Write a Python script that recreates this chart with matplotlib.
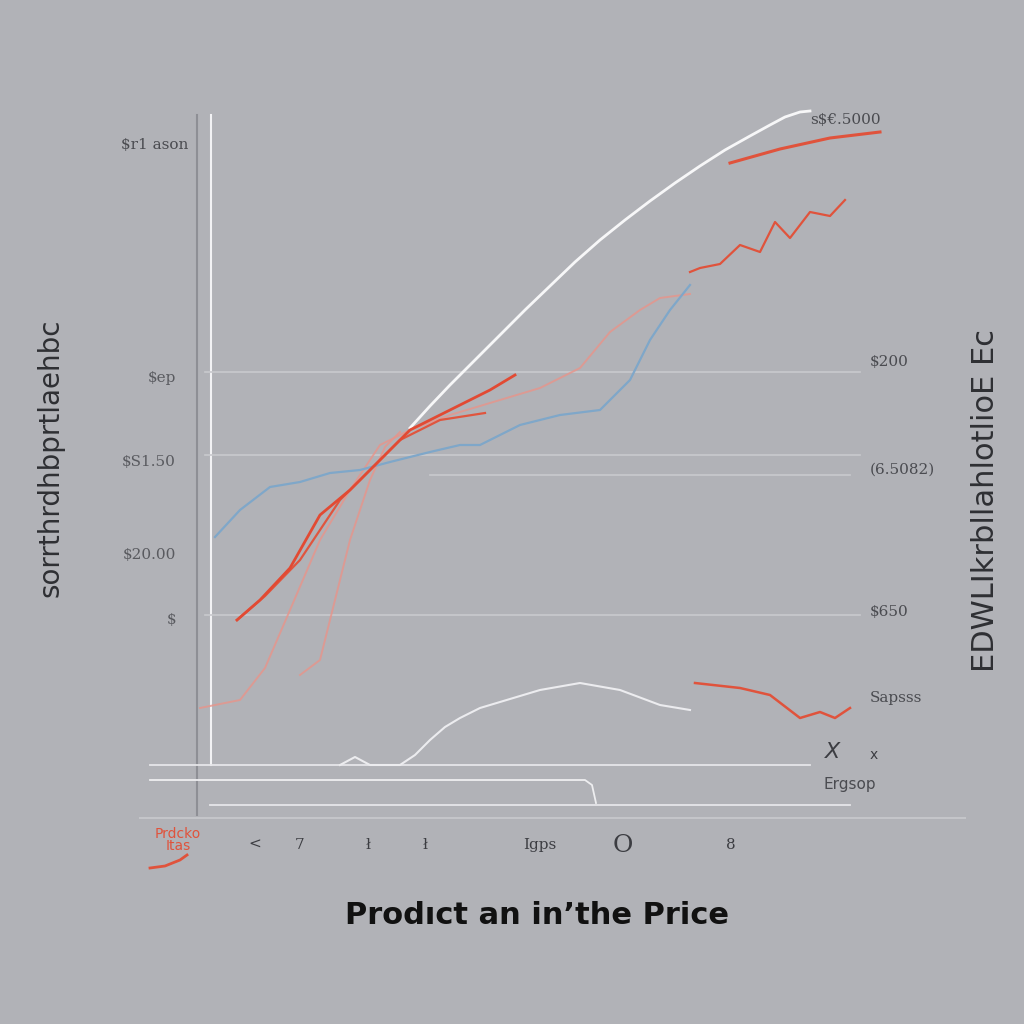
import matplotlib
matplotlib.use("Agg")
import matplotlib.pyplot as plt
import numpy as np

# series (x, y in picture units, y grows downward)
white_x = [410, 430, 450, 475, 500, 525, 550, 575, 600, 625, 650, 675, 700, 725, 750, 770, 785, 800, 810]
white_y = [428, 406, 385, 360, 335, 310, 286, 262, 240, 220, 201, 183, 166, 150, 136, 125, 117, 112, 111]

red_top_x = [730, 780, 830, 880]
red_top_y = [163, 149, 138, 132]

red_a_x = [237, 260, 290, 320, 350, 380, 410, 450, 490, 515]
red_a_y = [620, 600, 568, 515, 490, 460, 430, 410, 390, 375]

red_b_x = [237, 265, 300, 340, 370, 400, 440, 485]
red_b_y = [620, 596, 560, 500, 470, 440, 420, 413]

pink_x = [200, 240, 265, 290, 320, 350, 380, 410, 450, 500, 540, 580, 610, 640, 660, 690]
pink_y = [708, 700, 668, 610, 540, 490, 445, 430, 415, 400, 388, 368, 332, 310, 298, 294]

red_jag_x = [690, 700, 720, 740, 760, 775, 790, 810, 830, 845]
red_jag_y = [272, 268, 264, 245, 252, 222, 238, 212, 216, 200]

pink2_x = [300, 320, 330, 350, 370, 385, 400]
pink2_y = [675, 660, 620, 540, 480, 447, 432]

blue_x = [215, 240, 270, 300, 330, 360, 390, 430, 460, 480, 500, 520, 560, 600, 630, 650, 670, 690]
blue_y = [537, 510, 487, 482, 473, 470, 462, 452, 445, 445, 435, 425, 415, 410, 380, 340, 310, 285]

low_white_x = [340, 355, 370, 400, 415, 430, 445, 460, 480, 500, 540, 580, 620, 660, 690]
low_white_y = [765, 757, 765, 765, 755, 740, 727, 718, 708, 702, 690, 683, 690, 705, 710]

low_red_x = [695, 740, 770, 800, 820, 835, 850]
low_red_y = [683, 688, 695, 718, 712, 718, 708]

left_ticks = ["$ep", "$S1.50", "$20.00", "$"]
left_tick_y = [378, 462, 555, 620]
right_ticks = ["$200", "(6.5082)", "$650", "Sapsss"]
right_tick_y = [362, 470, 612, 698]
x_ticks = ["<", "7", "ł", "ł", "Igps", "O", "8"]
x_tick_x = [255, 300, 368, 425, 540, 623, 731]

bg = "#b1b2b7"
fig = plt.figure(figsize=(10.24, 10.24), dpi=100, facecolor=bg)
ax = fig.add_axes([0, 0, 1, 1])
ax.set_facecolor(bg)
ax.set_xlim(0, 1024)
ax.set_ylim(1024, 0)
ax.axis("off")

# axis frame and grid
ax.plot([197, 197], [115, 815], color="#8e8f95", lw=1.5)
ax.plot([211, 211], [115, 765], color="#f2f2f4", lw=1.5)
ax.plot([140, 965], [818, 818], color="#c4c5c9", lw=1.5)
for gy, x0, x1 in [(372, 205, 860), (455, 205, 860), (475, 430, 850), (615, 205, 860)]:
    ax.plot([x0, x1], [gy, gy], color="#c8c9cd", lw=1.2)
ax.plot([150, 810], [765, 765], color="#e6e6e9", lw=1.3)
ax.plot([150, 585, 592, 596], [780, 780, 785, 803], color="#eeeef0", lw=1.3)
ax.plot([210, 850], [805, 805], color="#e6e6e9", lw=1.3)

# series
ax.plot(white_x, white_y, color="#f7f7f8", lw=2.0, solid_joinstyle="round")
ax.plot(red_top_x, red_top_y, color="#e0533c", lw=2.2)
ax.plot(pink_x, pink_y, color="#e8948a", lw=1.4, alpha=0.8)
ax.plot(pink2_x, pink2_y, color="#e8948a", lw=1.4, alpha=0.8)
ax.plot(blue_x, blue_y, color="#7fa7c9", lw=1.6)
ax.plot(red_jag_x, red_jag_y, color="#e0533c", lw=1.6)
ax.plot(red_b_x, red_b_y, color="#e0553e", lw=1.6)
ax.plot(red_a_x, red_a_y, color="#e24a33", lw=2.0)
ax.plot(low_white_x, low_white_y, color="#ececef", lw=1.5)
ax.plot(low_red_x, low_red_y, color="#e0533c", lw=1.8)

tc = "#4a4b50"
ax.text(155, 145, "$r1 ason", color=tc, fontsize=11, family="DejaVu Serif",
        ha="center", va="center")
ax.text(845, 120, "s$€.5000", color=tc, fontsize=11, family="DejaVu Serif",
        ha="center", va="center")
for t, y in zip(left_ticks, left_tick_y):
    ax.text(176, y, t, color=tc, fontsize=11, family="DejaVu Serif",
            ha="right", va="center", alpha=0.85)
for t, y in zip(right_ticks, right_tick_y):
    ax.text(870, y, t, color=tc, fontsize=11, family="DejaVu Serif",
            ha="left", va="center")
ax.text(825, 752, "X", color="#3c3d42", fontsize=16, ha="left", va="center", style="italic")
ax.text(870, 755, "x", color="#3c3d42", fontsize=10, ha="left", va="center")
ax.text(850, 785, "Ergsop", color=tc, fontsize=11, ha="center", va="center")

for t, x in zip(x_ticks, x_tick_x):
    fs = 18 if t == "O" else 11
    ax.text(x, 845, t, color="#3c3d42", fontsize=fs, family="DejaVu Serif",
            ha="center", va="center")
ax.text(178, 840, "Prdcko\nItas", color="#e0533c", fontsize=10, ha="center",
        va="center", linespacing=0.8)
ax.plot([150, 165, 180, 187], [868, 866, 860, 855], color="#e0533c", lw=2)

ax.text(50, 458, "sorrthrdhbprtlaehbc", color="#2e2f33", fontsize=20,
        rotation=90, ha="center", va="center")
ax.text(985, 500, "EDWLIkrbllahlotlioE Ec", color="#2e2f33", fontsize=22,
        rotation=90, ha="center", va="center")

ax.text(537, 915, "Prodıct an in\u02bcthe Price", color="#111111", fontsize=22,
        fontweight="bold", ha="center", va="center")

fig.savefig("out.png", dpi=100, facecolor=bg)
